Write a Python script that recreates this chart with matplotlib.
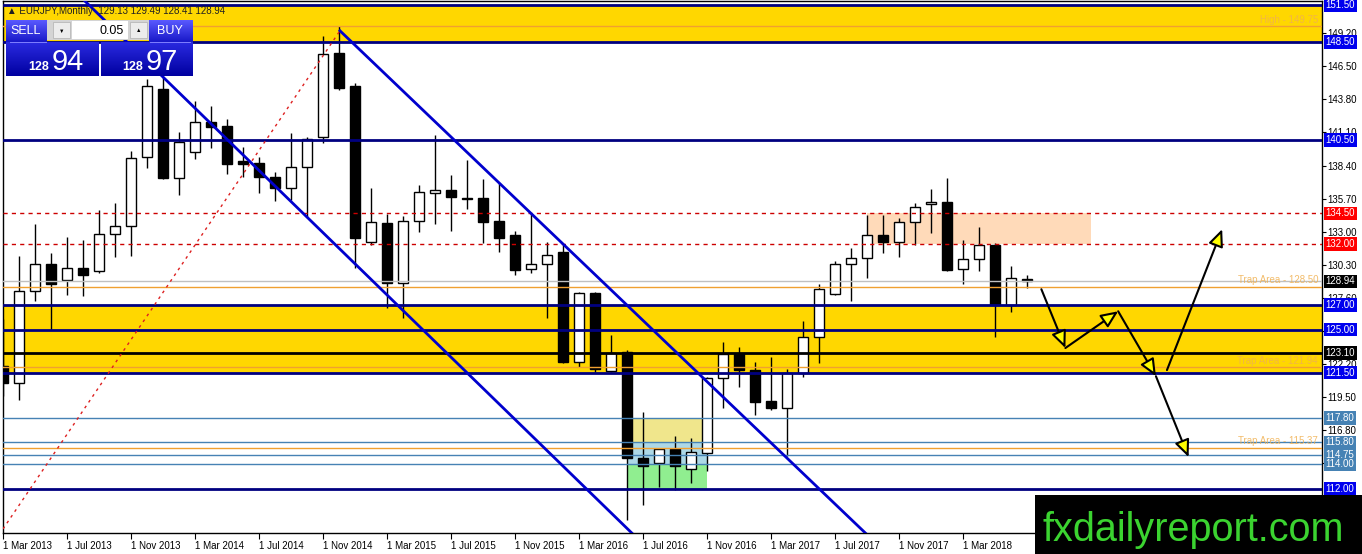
import matplotlib
matplotlib.use('Agg')
import matplotlib.pyplot as plt
from matplotlib.patches import Rectangle
from matplotlib.colors import LinearSegmentedColormap
import numpy as np

plt.rcParams['font.family'] = ['Liberation Sans', 'DejaVu Sans']

# %% monthly EURJPY bars, Mar 2013 .. Jul 2018
opens = [122.0, 120.64, 128.15, 130.4, 129.05, 130.0, 129.8, 132.8, 133.45, 139.1,
         144.65, 137.4, 139.5, 141.95, 141.6, 138.75, 138.6, 137.45, 136.6, 138.3,
         140.7, 147.6, 144.9, 132.15, 133.7, 128.8, 133.85, 136.15, 136.4, 135.75,
         135.75, 133.9, 132.7, 129.95, 130.4, 131.3, 122.35, 128.0, 121.6, 123.2,
         114.5, 114.1, 115.25, 113.6, 114.9, 121.05, 123.0, 121.7, 119.2, 118.6,
         121.5, 124.4, 127.9, 130.4, 130.85, 132.7, 132.15, 133.8, 135.25, 135.4,
         129.95, 130.75, 131.9, 127.0, 129.13]
highs = [125.9, 131.0, 133.6, 131.25, 132.55, 132.3, 134.77, 135.3, 139.6, 145.5,
         145.7, 141.1, 143.65, 143.25, 142.2, 139.9, 139.1, 137.9, 141.05, 140.7,
         149.0, 149.75, 145.1, 136.55, 134.45, 134.3, 136.8, 140.9, 137.6, 138.85,
         137.3, 136.95, 133.05, 134.45, 132.15, 131.9, 128.1, 128.1, 124.6, 123.3,
         118.3, 115.3, 116.3, 116.15, 121.1, 124.0, 123.6, 122.4, 122.75, 121.8,
         125.7, 128.7, 130.6, 131.65, 134.35, 134.35, 134.1, 135.35, 136.5, 137.4,
         132.3, 133.4, 132.07, 130.2, 129.49]
lows = [119.6, 119.25, 127.3, 124.97, 127.8, 127.75, 129.6, 130.9, 131.0, 138.2,
        137.3, 136.0, 138.9, 139.8, 137.7, 137.45, 136.15, 135.5, 135.6, 134.2,
        140.2, 144.6, 130.0, 131.9, 126.75, 125.95, 133.0, 133.6, 133.05, 134.85,
        132.1, 131.3, 129.45, 129.6, 125.95, 122.3, 121.95, 121.55, 121.55, 109.5,
        110.7, 112.15, 111.9, 112.5, 113.5, 118.6, 120.3, 118.05, 118.45, 114.7,
        121.1, 122.3, 127.8, 127.35, 129.2, 131.25, 130.9, 131.9, 132.9, 129.8,
        128.7, 129.8, 124.4, 126.45, 128.41]
closes = [120.65, 128.15, 130.4, 128.7, 130.0, 129.5, 132.8, 133.45, 139.0, 144.9,
          137.4, 140.3, 141.95, 141.55, 138.5, 138.5, 137.45, 136.55, 138.3, 140.6,
          147.5, 144.7, 132.5, 133.8, 128.8, 133.85, 136.2, 136.4, 135.8, 135.7,
          133.8, 132.5, 129.9, 130.4, 131.1, 122.35, 128.0, 121.8, 123.1, 114.5,
          113.9, 115.25, 113.9, 115.0, 121.05, 123.0, 121.7, 119.1, 118.6, 121.5,
          124.4, 128.3, 130.4, 130.85, 132.7, 132.15, 133.8, 135.0, 135.4, 129.9,
          130.75, 131.9, 127.0, 129.2, 128.94]

tick_pos = [0, 4, 8, 12, 16, 20, 24, 28, 32, 36, 40, 44, 48, 52, 56, 60]
tick_labels = ['1 Mar 2013', '1 Jul 2013', '1 Nov 2013', '1 Mar 2014', '1 Jul 2014',
               '1 Nov 2014', '1 Mar 2015', '1 Jul 2015', '1 Nov 2015', '1 Mar 2016',
               '1 Jul 2016', '1 Nov 2016', '1 Mar 2017', '1 Jul 2017', '1 Nov 2017',
               '1 Mar 2018']
price_ticks = [149.20, 146.50, 143.80, 141.10, 138.40, 135.70, 133.00, 130.30,
               127.60, 124.90, 122.20, 119.50, 116.80, 114.10]
price_labels = ['149.20', '146.50', '143.80', '141.10', '138.40', '135.70', '133.00',
                '130.30', '127.60', '', '122.20', '119.50', '116.80', '']

# levels / zones
gold_zones = [(148.5, 151.5), (121.5, 127.0)]
navy_levels = [151.5, 148.5, 140.5, 127.0, 125.0, 121.5, 112.0]
black_levels = [123.10]
red_levels = [134.5, 132.0]
steel_levels = [117.8, 115.8, 114.75, 114.0]
current_price = 128.94
trap_levels = [128.50, 121.94, 115.37]
high_level = 149.75

label_vals = [151.50, 148.50, 140.50, 134.50, 132.00, 128.94, 127.00, 125.00,
              123.10, 121.50, 117.80, 115.80, 114.75, 114.00, 112.00]
label_cols = ['#0000ee', '#0000ee', '#0000ee', '#ff0000', '#ff0000', '#000000',
              '#0000ee', '#0000ee', '#000000', '#0000ee', '#4682b4', '#4682b4',
              '#4682b4', '#4682b4', '#0000ee']

# boxes: (x0, x1, y0, y1, colour)
boxes = [(54, 68, 132.0, 134.5, '#ffdab9'),
         (39.05, 43.7, 115.8, 117.8, '#f0e68c'),
         (39.05, 44.0, 114.0, 115.8, '#add8e6'),
         (39.05, 44.0, 112.0, 114.0, '#90ee90')]

trend_a = ([21.06, 53.9], [149.4, 108.4])
trend_b = ([5.06, 39.3], [151.9, 108.4])
red_dot = ([0.0, 21.06], [108.73, 149.4])

arrows = [((64.9, 128.3), (66.4, 123.5)),
          ((66.4, 123.5), (69.7, 126.5)),
          ((69.7, 126.5), (72.06, 121.2)),
          ((72.06, 121.2), (74.1, 114.6)),
          ((72.75, 121.7), (76.2, 133.2))]

W, H = 1362, 554
fig = plt.figure(figsize=(W / 100, H / 100), dpi=100)
ax = fig.add_axes([3 / W, 21 / H, 1319 / W, 532 / H])
ax.set_xlim(0, 82.44)
ax.set_ylim(108.40, 151.83)

for lo, hi in gold_zones:
    ax.axhspan(lo, hi, color='#ffd700', lw=0, zorder=1)
for x0, x1, y0, y1, c in boxes:
    ax.add_patch(Rectangle((x0, y0), x1 - x0, y1 - y0, fc=c, ec='none', zorder=1.2))

# candles
idx = np.arange(len(opens))
o = np.array(opens); c = np.array(closes)
up = c >= o
ax.vlines(idx, lows, highs, color='black', lw=1, zorder=2)
bottoms = np.minimum(o, c)
heights = np.maximum(np.abs(c - o), 0.06)
ax.bar(idx[up], heights[up], bottom=bottoms[up], width=0.62,
       color='white', edgecolor='black', lw=1, zorder=3)
ax.bar(idx[~up], heights[~up], bottom=bottoms[~up], width=0.62,
       color='black', edgecolor='black', lw=1, zorder=3)

# horizontal lines
ax.axhline(current_price, color='#c0c0c0', lw=1, zorder=4)
for p in trap_levels + [high_level]:
    ax.axhline(p, color='#f0a030', lw=1, zorder=4)
for p in steel_levels:
    ax.axhline(p, color='#4682b4', lw=1, zorder=4)
for p in red_levels:
    ax.axhline(p, color='#cc0000', lw=1, ls=(0, (3, 3)), zorder=4)
for p in navy_levels:
    ax.axhline(p, color='#000080', lw=2, zorder=4.2)
for p in black_levels:
    ax.axhline(p, color='black', lw=2, zorder=4.2)

ax.plot(*trend_a, color='#0000cd', lw=2, zorder=5)
ax.plot(*trend_b, color='#0000cd', lw=2, zorder=5)
ax.plot(*red_dot, color='#dd2020', lw=1, ls=(0, (2, 3)), zorder=5)

for (xa, ya), (xb, yb) in arrows:
    ax.annotate('', xy=(xb, yb), xytext=(xa, ya),
                arrowprops=dict(arrowstyle='-|>,head_length=0.8,head_width=0.35',
                                mutation_scale=13, fc='yellow', ec='black', lw=1.5,
                                shrinkA=0, shrinkB=0), zorder=6)

ytr = ax.get_yaxis_transform()
for p in trap_levels:
    ax.text(0.997, p + 0.12, 'Trap Area - %.2f' % p, transform=ytr, ha='right',
            va='bottom', fontsize=7, color='#f0b050', alpha=0.85, zorder=4.5)
ax.text(0.997, high_level + 0.12, 'High - %.2f' % high_level, transform=ytr,
        ha='right', va='bottom', fontsize=7, color='#f0b050', alpha=0.85, zorder=4.5)

# axes styling
for s in ax.spines.values():
    s.set_color('black')
    s.set_linewidth(1)
ax.yaxis.tick_right()
ax.set_yticks(price_ticks)
ax.set_yticklabels(price_labels)
ax.tick_params(axis='y', length=3, pad=1, labelsize=7, colors='black')
ax.set_xticks(tick_pos)
ax.set_xticklabels(tick_labels, ha='left')
ax.tick_params(axis='x', length=4, pad=2, labelsize=7, colors='black')

for p, col in zip(label_vals, label_cols):
    ax.text(1.0025, p, '%.2f' % p, transform=ytr, ha='left', va='center',
            fontsize=7, color='white', clip_on=False, zorder=8,
            bbox=dict(boxstyle='square,pad=0.18', fc=col, ec='none'))

# overlay: trading panel, title, watermark (pixel coords)
ov = fig.add_axes([0, 0, 1, 1], zorder=10)
ov.patch.set_visible(False)


def grad(x0, y0, x1, y1, ctop, cbot):
    cm = LinearSegmentedColormap.from_list('g', [ctop, cbot])
    ov.imshow(np.linspace(0, 1, 64).reshape(-1, 1), cmap=cm,
              extent=(x0, x1, y1, y0), aspect='auto', zorder=11)


ov.text(7, 11, '\u25b2 EURJPY,Monthly  129.13 129.49 128.41 128.94', fontsize=7,
        va='center', ha='left', color='#202020', zorder=12)
grad(6, 20, 47, 42, '#5a5aff', '#1818c8')
grad(149, 20, 193, 42, '#5a5aff', '#1818c8')
grad(6, 42, 99, 76, '#2a2ae0', '#0000a0')
grad(101, 42, 193, 76, '#2a2ae0', '#0000a0')
ov.add_patch(Rectangle((47, 20), 102, 20, fc='#d4d4d4', ec='none', zorder=11))
ov.add_patch(Rectangle((72, 21), 56, 18, fc='white', ec='none', zorder=12))
ov.add_patch(Rectangle((53, 22), 17, 16, fc='#ececec', ec='#b0b0b0', lw=0.5, zorder=12))
ov.add_patch(Rectangle((130, 22), 17, 16, fc='#ececec', ec='#b0b0b0', lw=0.5, zorder=12))
ov.plot([10, 46], [41.5, 41.5], color='#8080ff', lw=0.7, zorder=12)
ov.plot([150, 190], [41.5, 41.5], color='#8080ff', lw=0.7, zorder=12)
ov.text(26, 31, 'SELL', fontsize=9, color='white', ha='center', va='center', zorder=13)
ov.text(170, 31, 'BUY', fontsize=9, color='white', ha='center', va='center', zorder=13)
ov.text(124, 31, '0.05', fontsize=9, color='black', ha='right', va='center', zorder=13)
ov.text(61.5, 31, '\u25bc', fontsize=4, color='black', ha='center', va='center', zorder=13)
ov.text(138.5, 31, '\u25b2', fontsize=4, color='black', ha='center', va='center', zorder=13)
ov.text(39, 70, '128', fontsize=9, color='white', ha='center', va='baseline',
        fontweight='bold', zorder=13)
ov.text(52, 70, '94', fontsize=21, color='white', ha='left', va='baseline', zorder=13)
ov.text(133, 70, '128', fontsize=9, color='white', ha='center', va='baseline',
        fontweight='bold', zorder=13)
ov.text(146, 70, '97', fontsize=21, color='white', ha='left', va='baseline', zorder=13)

ov.add_patch(Rectangle((1035, 495), 327, 59, fc='black', ec='none', zorder=11))
ov.text(1193, 541, 'fxdailyreport.com', fontsize=28.5, color='#3bd330', ha='center',
        va='baseline', family='Liberation Sans', zorder=12)

ov.set_xlim(0, W)
ov.set_ylim(H, 0)
ov.axis('off')

fig.savefig('out.png', dpi=100)
